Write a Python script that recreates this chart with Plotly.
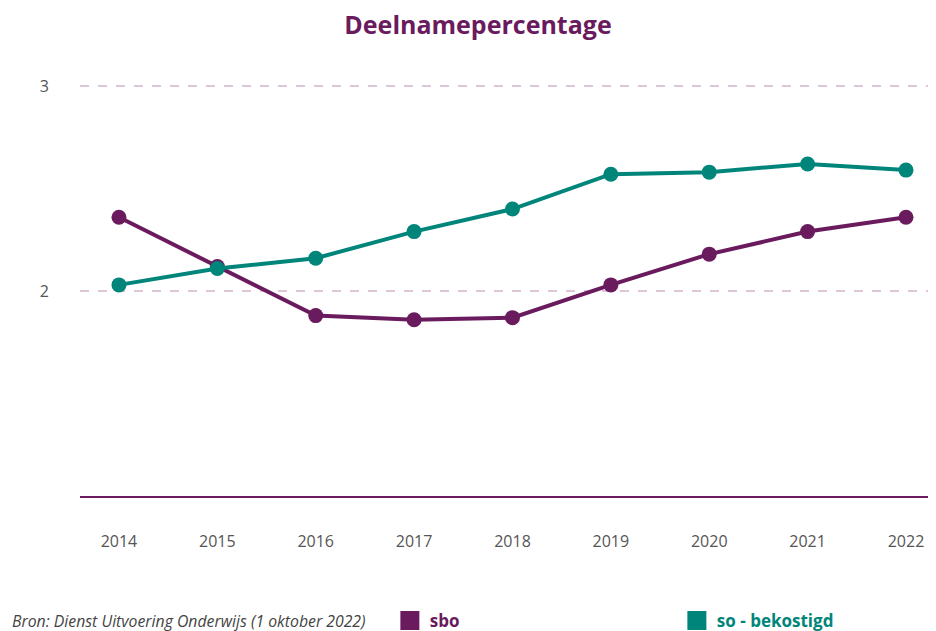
import plotly.graph_objects as go

jaren = [2014, 2015, 2016, 2017, 2018, 2019, 2020, 2021, 2022]
sbo = [2.36, 2.12, 1.88, 1.86, 1.87, 2.03, 2.18, 2.29, 2.36]
so_bekostigd = [2.03, 2.11, 2.16, 2.29, 2.40, 2.57, 2.58, 2.62, 2.59]

paars = "#6a1b5e"
groen = "#00857a"

fig = go.Figure()

fig.add_trace(go.Scatter(
    x=jaren, y=sbo, mode="lines+markers", name="sbo", showlegend=False,
    line=dict(color=paars, width=4), marker=dict(color=paars, size=15),
))
fig.add_trace(go.Scatter(
    x=jaren, y=so_bekostigd, mode="lines+markers", name="so - bekostigd", showlegend=False,
    line=dict(color=groen, width=4), marker=dict(color=groen, size=15),
))

# legenda alleen met vierkantjes
for naam, kleur in [("sbo", paars), ("so - bekostigd", groen)]:
    fig.add_trace(go.Scatter(
        x=[None], y=[None], mode="markers",
        name=f"<b><span style='color:{kleur}'>{naam}</span></b>",
        marker=dict(color=kleur, size=16, symbol="square", line=dict(color=kleur, width=3)),
    ))

# pagina heeft 8px marge, dus figuur iets kleiner
fig.update_layout(
    width=928,
    height=623,
    margin=dict(l=72, r=0, t=76, b=135, autoexpand=False),
    plot_bgcolor="white",
    paper_bgcolor="white",
    font=dict(family="Open Sans, sans-serif", size=16, color="#555555"),
    title=dict(
        text="<b>Deelnamepercentage</b>",
        font=dict(size=25, color=paars),
        x=0.5065, xanchor="center", y=0.9727, yanchor="middle",
    ),
    xaxis=dict(
        range=[2013.604, 2022.305],
        tickvals=jaren,
        showgrid=False,
        zeroline=False,
        showline=True,
        linecolor=paars,
        linewidth=2,
        ticks="",
        ticklabelstandoff=30,
    ),
    yaxis=dict(
        range=[1, 3.01],
        tickvals=[2, 3],
        showgrid=True,
        gridcolor="#dcc6d8",
        griddash="dash",
        gridwidth=1.5,
        zeroline=False,
        ticks="",
        ticklabelstandoff=30,
    ),
    legend=dict(
        orientation="h",
        x=0.362, xanchor="left",
        y=-0.3034, yanchor="middle",
        entrywidth=242,
        entrywidthmode="pixels",
        font=dict(size=17),
    ),
)

fig.add_annotation(
    text="<i>Bron: Dienst Uitvoering Onderwijs (1 oktober 2022)</i>",
    xref="paper", yref="paper", x=-0.0818, y=-0.3034,
    xanchor="left", yanchor="middle", showarrow=False,
    font=dict(size=15.8, color="#444444"),
)

fig.write_html("out.html")
